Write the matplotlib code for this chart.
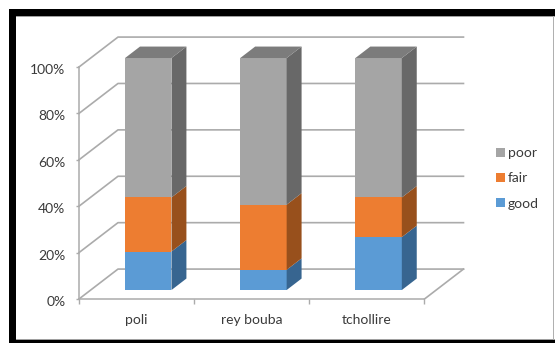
import matplotlib
matplotlib.use("Agg")
import matplotlib.pyplot as plt
from matplotlib.patches import Patch, Polygon, Rectangle
from matplotlib.transforms import ScaledTranslation
import numpy as np

plt.rcParams["font.family"] = ["Lato", "DejaVu Sans"]

sites = ["poli", "rey bouba", "tchollire"]
good = [16.6, 8.7, 22.8]
fair = [23.3, 28.1, 17.1]
poor = [60.1, 63.2, 60.1]
y_ticks = [0, 20, 40, 60, 80, 100]
y_tick_labels = ["0%", "20%", "40%", "60%", "80%", "100%"]

series = [
    ("good", good, "#5b9bd5", "#376590"),
    ("fair", fair, "#ed7d31", "#98501c"),
    ("poor", poor, "#a5a5a5", "#686868"),
]
POOR_TOP = "#7c7c7c"
GRID = "#ababab"
TEXT = "#3a3a3a"

W, H = 555, 343
DEPTH_X = 0.3385  # full chart depth, in category units
DEPTH_Y = 12.9    # full chart depth, in percent units
BAR_WIDTH = 0.403
BAR_FRONT = 0.3
BAR_BACK = 0.683


def project(x, y, depth):
    """Oblique projection of a point at the given depth (0 front, 1 back wall)."""
    return x + depth * DEPTH_X, y + depth * DEPTH_Y


fig = plt.figure(figsize=(W / 100, H / 100), dpi=100)
fig.patch.set_facecolor("white")

# screenshot frame around the chart
for x0, y0, x1, y1, col in [
    (9, 9, 555, 16, "black"),
    (9, 9, 16, 343, "black"),
    (9, 340, 555, 343, "black"),
    (16, 16, 555, 17, "#a0a0a0"),
    (16, 339, 555, 340, "#a0a0a0"),
    (552.5, 16, 554, 340, "#b0b0b0"),
]:
    fig.add_artist(Rectangle((x0 / W, 1 - y1 / H), (x1 - x0) / W, (y1 - y0) / H,
                             transform=fig.transFigure, fc=col, ec="none"))

ax = fig.add_axes([79 / W, 1 - 299 / H, (424.5 - 79) / W, (299 - 67) / H])
ax.set_xlim(-0.5, 2.5)
ax.set_ylim(0, 100)
ax.patch.set_alpha(0)

for name in ["top", "right"]:
    ax.spines[name].set_visible(False)
for name in ["left", "bottom"]:
    ax.spines[name].set_color(GRID)
    ax.spines[name].set_linewidth(1.1)

ax.set_yticks(y_ticks)
ax.set_yticklabels(y_tick_labels, fontsize=10, color=TEXT)
ax.set_xticks(np.arange(len(sites)))
ax.set_xticklabels(sites, fontsize=10, color=TEXT)
ax.tick_params(axis="x", length=0, pad=10.5)
ax.tick_params(axis="y", length=2.5, width=1, color=GRID, pad=7.3)
ax.set_xticks(np.arange(len(sites) + 1) - 0.5, minor=True)
ax.tick_params(axis="x", which="minor", length=3.5, width=1, color=GRID)

# value labels sit a little below their gridlines
label_shift = ScaledTranslation(0, -1.5 / 72, fig.dpi_scale_trans)
for label in ax.get_yticklabels():
    label.set_transform(label.get_transform() + label_shift)

# side wall and back wall gridlines
x_left, x_right = -0.5, 2.5
for tick in y_ticks:
    bx, by = project(x_left, tick, 1)
    ax.plot([x_left, bx, project(x_right, tick, 1)[0]], [tick, by, by],
            color=GRID, lw=1.2, clip_on=False, zorder=1)
# right edge of the floor
bx, by = project(x_right, 0, 1)
ax.plot([x_right, bx], [0, by], color=GRID, lw=1.2, clip_on=False, zorder=1)

# stacked bars: front face, side face, then a cap on the top segment
for i in range(len(sites)):
    base = 0
    left = i - BAR_WIDTH / 2
    right = i + BAR_WIDTH / 2
    for name, values, front, side in series:
        top = base + values[i]
        corners = [project(left, base, BAR_FRONT), project(right, base, BAR_FRONT),
                   project(right, top, BAR_FRONT), project(left, top, BAR_FRONT)]
        ax.add_patch(Polygon(corners, fc=front, ec="none", clip_on=False, zorder=3))
        corners = [project(right, base, BAR_FRONT), project(right, base, BAR_BACK),
                   project(right, top, BAR_BACK), project(right, top, BAR_FRONT)]
        ax.add_patch(Polygon(corners, fc=side, ec="none", clip_on=False, zorder=3))
        base = top
    corners = [project(left, base, BAR_FRONT), project(right, base, BAR_FRONT),
               project(right, base, BAR_BACK), project(left, base, BAR_BACK)]
    ax.add_patch(Polygon(corners, fc=POOR_TOP, ec="none", clip_on=False, zorder=3))

handles = [Patch(fc=s[2], ec="none", label=s[0]) for s in reversed(series)]
fig.legend(handles=handles, loc="center left", bbox_to_anchor=(493 / W, 1 - 178.5 / H),
           frameon=False, fontsize=10, labelcolor=TEXT, handlelength=0.68,
           handleheight=0.68, handletextpad=0.2, labelspacing=0.94,
           borderpad=0, borderaxespad=0.2)

fig.savefig("out.png", dpi=100)
